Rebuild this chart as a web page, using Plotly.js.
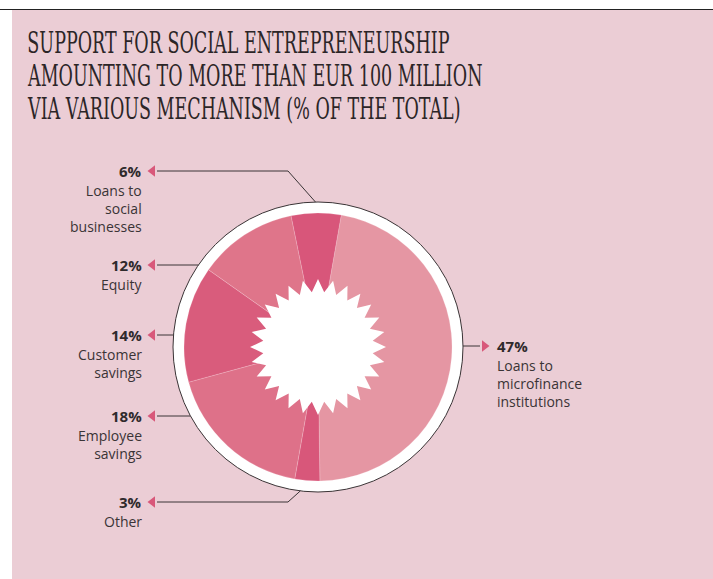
<!DOCTYPE html>
<html>
<head>
<meta charset="utf-8">
<script src="https://cdn.plot.ly/plotly-3.0.1.min.js"></script>
<style>
  html, body { margin: 0; padding: 0; background: #ffffff; }
  #chart { width: 713px; height: 579px; }
</style>
</head>
<body>
<div id="chart"></div>
<script>
// data
const categories = ['Loans to microfinance institutions', 'Other', 'Employee savings',
                    'Customer savings', 'Equity', 'Loans to social businesses'];
const shares = [47, 3, 18, 14, 12, 6];
const labelText = ['Loans to<br>microfinance<br>institutions', 'Other', 'Employee<br>savings',
                   'Customer<br>savings', 'Equity', 'Loans to<br>social<br>businesses'];
const sliceColors = ['#E596A3', '#D8577A', '#DE7189', '#D95C7C', '#DF758A', '#D8567A'];
const titleLines = ['SUPPORT FOR SOCIAL ENTREPRENEURSHIP',
                    'AMOUNTING TO MORE THAN EUR 100 MILLION',
                    'VIA VARIOUS MECHANISM (% OF THE TOTAL)'];

// callout layout (pixels): side, row y, optional knee
const calloutSide = ['right', 'left', 'left', 'left', 'left', 'left'];
const calloutY = [346, 502, 416, 335, 265, 171];
const calloutKneeX = [null, 288, null, null, null, 288];
const calloutKneeAngle = [null, 187, null, null, null, -1];

const W = 713, H = 579;
const cx = 318, cy = 347;
const rPie = 134, rRing = 145;
const leftText = 144, rightText = 495;
const pink = '#D8587A';
const ink = '#3a3436';
const titleLeft = 26, titleTop = 42, titleStep = 33, titleWidth = 457;

function px2x(x) { return x / W; }
function px2y(y) { return 1 - y / H; }

var shapes = [];
// pink panel and top rule
shapes.push({type: 'rect', xref: 'x', yref: 'y', x0: 12, x1: W, y0: 10, y1: H,
             fillcolor: '#EBCDD5', line: {width: 0}, layer: 'below'});
shapes.push({type: 'line', xref: 'x', yref: 'y', x0: 0, x1: W, y0: 9.5, y1: 9.5,
             line: {color: '#222', width: 1.2}, layer: 'below'});
// white ring behind the pie
shapes.push({type: 'circle', xref: 'x', yref: 'y', x0: cx - rRing, x1: cx + rRing,
             y0: cy - rRing, y1: cy + rRing, fillcolor: '#ffffff',
             line: {color: '#3a3436', width: 1}, layer: 'below'});

// white star in the middle
var nPts = 28, rOut = 68, rIn = 55;
var star = '';
for (let i = 0; i < nPts * 2; i++) {
    const r = i % 2 === 0 ? rOut : rIn;
    const a = Math.PI * i / nPts;
    const x = cx + r * Math.sin(a), y = cy - r * Math.cos(a);
    star += (i === 0 ? 'M' : 'L') + x.toFixed(1) + ',' + y.toFixed(1);
}
shapes.push({type: 'path', xref: 'x', yref: 'y', path: star + 'Z',
             fillcolor: '#ffffff', line: {width: 0}, layer: 'above'});

var annotations = [];
// title, one annotation per line so the line spacing can follow the reference
for (let i = 0; i < titleLines.length; i++) {
    annotations.push({
        xref: 'x', yref: 'y', x: titleLeft, y: titleTop + i * titleStep,
        xanchor: 'left', yanchor: 'middle', showarrow: false,
        text: titleLines[i],
        font: {family: 'DejaVu Serif Condensed', size: 30, color: '#2b2527'}
    });
}

var triX = [], triY = [], triSym = [];
for (let i = 0; i < categories.length; i++) {
    const y = calloutY[i];
    const left = calloutSide[i] === 'left';
    const tip = left ? 148 : 489;
    const base = left ? tip + 9 : tip - 9;
    var path;
    if (calloutKneeX[i] !== null) {
        const a = calloutKneeAngle[i] * Math.PI / 180;
        const ex = cx + rRing * Math.sin(a), ey = cy - rRing * Math.cos(a);
        path = 'M' + base + ',' + y + 'L' + calloutKneeX[i] + ',' + y + 'L' + ex + ',' + ey;
    } else {
        const dx = Math.sqrt(rRing * rRing - (y - cy) * (y - cy));
        const ex = left ? cx - dx : cx + dx;
        path = 'M' + base + ',' + y + 'L' + ex + ',' + y;
    }
    shapes.push({type: 'path', xref: 'x', yref: 'y', path: path,
                 line: {color: ink, width: 1}, layer: 'below'});
    triX.push((tip + base) / 2);
    triY.push(y);
    triSym.push(left ? 'triangle-left' : 'triangle-right');

    annotations.push({
        xref: 'x', yref: 'y', x: left ? leftText : rightText, y: y,
        xanchor: left ? 'right' : 'left', yanchor: 'middle',
        text: '<b>' + shares[i] + '%</b>', showarrow: false,
        font: {family: 'Open Sans', size: 15, color: '#2f2a2c'}
    });
    annotations.push({
        xref: 'x', yref: 'y', x: left ? leftText : rightText, y: y + 8,
        xanchor: left ? 'right' : 'left', yanchor: 'top',
        align: left ? 'right' : 'left',
        text: labelText[i], showarrow: false,
        font: {family: 'Open Sans', size: 14, color: ink}
    });
}

var traces = [{
    type: 'pie',
    labels: categories,
    values: shares,
    sort: false,
    direction: 'clockwise',
    rotation: 10,
    hole: 0.4,
    textinfo: 'none',
    hoverinfo: 'label+percent',
    marker: {colors: sliceColors, line: {color: 'rgba(255,235,240,0.4)', width: 0.5}},
    domain: {x: [px2x(cx - rPie), px2x(cx + rPie)], y: [px2y(cy + rPie), px2y(cy - rPie)]},
    showlegend: false
}, {
    type: 'scatter',
    mode: 'markers',
    x: triX,
    y: triY,
    marker: {symbol: triSym, size: 10, color: pink},
    hoverinfo: 'skip',
    showlegend: false
}];

var layout = {
    width: W,
    height: H,
    margin: {l: 0, r: 0, t: 0, b: 0},
    paper_bgcolor: '#ffffff',
    plot_bgcolor: 'rgba(0,0,0,0)',
    xaxis: {range: [0, W], visible: false, fixedrange: true},
    yaxis: {range: [H, 0], visible: false, fixedrange: true},
    shapes: shapes,
    annotations: annotations,
    showlegend: false
};

Plotly.newPlot('chart', traces, layout, {displayModeBar: false, responsive: false}).then(function (gd) {
    // the reference title face is much narrower than any installed serif,
    // so squeeze the title lines horizontally (same factor for all of them)
    var groups = gd.querySelectorAll('.annotation-text-g');
    var widest = groups[1].getBBox().width;
    var s = titleWidth / widest;
    for (let i = 0; i < titleLines.length; i++) {
        var g = groups[i];
        var old = g.getAttribute('transform') || '';
        g.setAttribute('transform', 'translate(' + titleLeft + ',0) scale(' + s + ',1) translate(' + (-titleLeft) + ',0) ' + old);
    }
});
</script>
</body>
</html>
